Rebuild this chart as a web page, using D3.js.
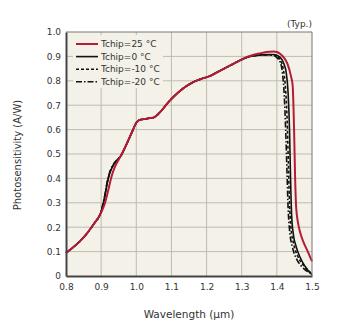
<!DOCTYPE html>
<html><head><meta charset="utf-8">
<script src="https://cdn.jsdelivr.net/npm/d3@7"></script>
<style>body{margin:0;background:#fff}svg{display:block}text{font-family:"DejaVu Sans",Verdana,sans-serif;fill:#333}</style>
</head><body><svg id="c" width="337" height="331"></svg>
<script>
// ---- data ----
const xTicks = [0.8,0.9,1.0,1.1,1.2,1.3,1.4,1.5];
const xTickLabels = ["0.8","0.9","1.0","1.1","1.2","1.3","1.4","1.5"];
const yTicks = [0,0.1,0.2,0.3,0.4,0.5,0.6,0.7,0.8,0.9,1.0];
const yTickLabels = ["0","0.1","0.2","0.3","0.4","0.5","0.6","0.7","0.8","0.9","1.0"];
const seriesNames = ["Tchip=25 °C","Tchip=0 °C","Tchip=-10 °C","Tchip=-20 °C"];

const wl25 = [0.80,0.82,0.84,0.86,0.88,0.90,0.91,0.92,0.93,0.94,0.95,0.97,0.99,1.00,1.01,1.03,1.05,1.07,1.09,1.11,1.13,1.15,1.17,1.19,1.21,1.23,1.25,1.27,1.29,1.31,1.33,1.35,1.37,1.39,1.40,1.41,1.42,1.43,1.44,1.445,1.449,1.452,1.455,1.46,1.467,1.477,1.488,1.50];
const ps25 = [0.095,0.117,0.143,0.175,0.215,0.26,0.295,0.35,0.41,0.45,0.477,0.533,0.597,0.628,0.64,0.645,0.65,0.675,0.71,0.74,0.765,0.785,0.80,0.81,0.82,0.835,0.85,0.865,0.88,0.895,0.905,0.912,0.918,0.92,0.918,0.91,0.895,0.87,0.82,0.78,0.60,0.40,0.28,0.22,0.175,0.135,0.10,0.06];

const wl0 = [0.80,0.82,0.84,0.86,0.88,0.90,0.905,0.91,0.917,0.925,0.935,0.945,0.955,0.97,0.99,1.00,1.01,1.03,1.05,1.07,1.09,1.11,1.13,1.15,1.17,1.19,1.21,1.23,1.25,1.27,1.29,1.31,1.33,1.35,1.37,1.39,1.40,1.41,1.42,1.427,1.432,1.436,1.439,1.442,1.447,1.455,1.465,1.48,1.50];
const ps0 = [0.095,0.117,0.143,0.175,0.215,0.263,0.29,0.322,0.378,0.423,0.455,0.474,0.49,0.533,0.597,0.628,0.64,0.645,0.65,0.675,0.71,0.74,0.765,0.785,0.80,0.81,0.82,0.835,0.85,0.865,0.88,0.893,0.902,0.905,0.908,0.908,0.905,0.895,0.87,0.83,0.75,0.60,0.40,0.25,0.17,0.12,0.08,0.04,0.005];

const wlm10 = [0.80,0.82,0.84,0.86,0.88,0.90,0.905,0.91,0.917,0.925,0.935,0.945,0.955,0.97,0.99,1.00,1.01,1.03,1.05,1.07,1.09,1.11,1.13,1.15,1.17,1.19,1.21,1.23,1.25,1.27,1.29,1.31,1.33,1.35,1.37,1.39,1.40,1.41,1.418,1.424,1.429,1.433,1.436,1.44,1.448,1.46,1.475,1.49,1.50];
const psm10 = [0.095,0.117,0.143,0.175,0.215,0.264,0.292,0.325,0.381,0.425,0.456,0.475,0.49,0.533,0.597,0.628,0.64,0.645,0.65,0.675,0.71,0.74,0.765,0.785,0.80,0.81,0.82,0.835,0.85,0.865,0.88,0.893,0.902,0.905,0.907,0.906,0.90,0.885,0.85,0.78,0.65,0.45,0.30,0.20,0.13,0.08,0.045,0.02,0.01];

const wlm20 = [0.80,0.82,0.84,0.86,0.88,0.90,0.905,0.91,0.917,0.925,0.935,0.945,0.955,0.97,0.99,1.00,1.01,1.03,1.05,1.07,1.09,1.11,1.13,1.15,1.17,1.19,1.21,1.23,1.25,1.27,1.29,1.31,1.33,1.35,1.37,1.39,1.40,1.41,1.416,1.421,1.425,1.429,1.432,1.436,1.444,1.456,1.47,1.485,1.50];
const psm20 = [0.095,0.117,0.143,0.175,0.215,0.266,0.295,0.328,0.384,0.428,0.458,0.476,0.49,0.533,0.597,0.628,0.64,0.645,0.65,0.675,0.71,0.74,0.765,0.785,0.80,0.81,0.82,0.835,0.85,0.865,0.88,0.893,0.902,0.905,0.906,0.904,0.895,0.875,0.83,0.74,0.60,0.42,0.28,0.19,0.12,0.07,0.04,0.02,0.01];

// ---- chart ----
const svg = d3.select("#c");
const L=66, T=32, W=246, H=244;
const x = d3.scaleLinear().domain([0.8,1.5]).range([L,L+W]);
const y = d3.scaleLinear().domain([0,1.0]).range([T+H,T]);

svg.append("rect").attr("x",L).attr("y",T).attr("width",W).attr("height",H).attr("fill","#f4f2e8");

// grid
const g = svg.append("g");
g.selectAll(".vg").data(xTicks.slice(1,-1)).join("line")
  .attr("x1",d=>x(d)).attr("x2",d=>x(d)).attr("y1",T).attr("y2",T+H)
  .attr("stroke","#bdbbb2").attr("stroke-width",1);
g.selectAll(".hg").data(yTicks.slice(1,-1)).join("line")
  .attr("y1",d=>y(d)).attr("y2",d=>y(d)).attr("x1",L).attr("x2",L+W)
  .attr("stroke","#bdbbb2").attr("stroke-width",1);

// legend box (covers grid)
svg.append("rect").attr("x",73).attr("y",35).attr("width",90).attr("height",53).attr("fill","#f4f2e8");

// curves
const series = [
  {wl:wlm20, ps:psm20, color:"#111", w:1.6, dash:"6,2,1.5,2"},
  {wl:wlm10, ps:psm10, color:"#111", w:1.6, dash:"3,2"},
  {wl:wl0, ps:ps0, color:"#111", w:1.6, dash:null},
  {wl:wl25, ps:ps25, color:"#b51c36", w:2, dash:null}
];
const line = d3.line().x(d=>x(d[0])).y(d=>y(d[1])).curve(d3.curveMonotoneX);
series.forEach(s=>{
  svg.append("path").datum(s.wl.map((w,i)=>[w,s.ps[i]]))
    .attr("d",line).attr("fill","none").attr("stroke",s.color)
    .attr("stroke-width",s.w).attr("stroke-dasharray",s.dash);
});

// frame
svg.append("line").attr("x1",L).attr("x2",L+W).attr("y1",T).attr("y2",T).attr("stroke","#777").attr("stroke-width",1);
svg.append("line").attr("x1",L+W).attr("x2",L+W).attr("y1",T).attr("y2",T+H).attr("stroke","#777").attr("stroke-width",1);

// axes
const xa = svg.append("g").attr("transform",`translate(0,${T+H})`)
  .call(d3.axisBottom(x).tickValues(xTicks).tickFormat((d,i)=>xTickLabels[i]).tickSize(0).tickPadding(8));
const ya = svg.append("g").attr("transform",`translate(${L},0)`)
  .call(d3.axisLeft(y).tickValues(yTicks).tickFormat((d,i)=>yTickLabels[i]).tickSize(0).tickPadding(5));
[xa,ya].forEach(a=>{
  a.select(".domain").attr("stroke","#444").attr("stroke-width",2);
  a.selectAll("text").attr("font-size",9).attr("fill","#333").attr("font-family","DejaVu Sans");
});

// legend
const lg = svg.append("g");
const legendStyles = [
  {color:"#b51c36", w:2, dash:null},
  {color:"#111", w:1.6, dash:null},
  {color:"#111", w:1.6, dash:"3,2"},
  {color:"#111", w:1.6, dash:"6,2,1.5,2"}
];
seriesNames.forEach((n,i)=>{
  const yy = 44 + i*12.6;
  lg.append("line").attr("x1",76).attr("x2",98).attr("y1",yy).attr("y2",yy)
    .attr("stroke",legendStyles[i].color).attr("stroke-width",legendStyles[i].w).attr("stroke-dasharray",legendStyles[i].dash);
  lg.append("text").attr("x",101).attr("y",yy).attr("dy","0.35em").attr("font-size",9).text(n);
});

// titles
svg.append("text").attr("x",312).attr("y",27).attr("text-anchor","end").attr("font-size",9).text("(Typ.)");
svg.append("text").attr("x",189).attr("y",318).attr("text-anchor","middle").attr("font-size",10.5).text("Wavelength (µm)");
svg.append("text").attr("transform","translate(21,155) rotate(-90)").attr("text-anchor","middle").attr("font-size",10).text("Photosensitivity (A/W)");
</script></body></html>
